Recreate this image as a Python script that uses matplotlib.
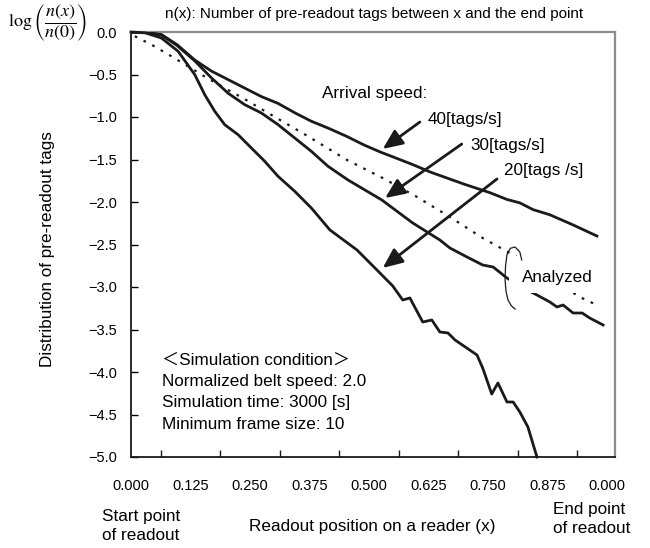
import numpy as np
import matplotlib
matplotlib.use("Agg")
import matplotlib.pyplot as plt
from matplotlib import font_manager
from matplotlib.patches import Rectangle

# --- data (x: readout position, y: log(n(x)/n(0))) ---
x40 = [0.0, 0.030, 0.064, 0.097, 0.134, 0.169, 0.204, 0.239, 0.274, 0.309, 0.344,
       0.379, 0.414, 0.454, 0.490, 0.523, 0.560, 0.592, 0.630, 0.670, 0.700, 0.727,
       0.754, 0.790, 0.817, 0.845, 0.880, 0.929, 0.979]
y40 = [0.0, -0.005, -0.03, -0.15, -0.33, -0.46, -0.56, -0.66, -0.76, -0.84, -0.95,
       -1.05, -1.13, -1.23, -1.33, -1.41, -1.49, -1.56, -1.65, -1.73, -1.79, -1.84,
       -1.89, -1.97, -2.01, -2.09, -2.15, -2.27, -2.40]

x30 = [0.0, 0.030, 0.064, 0.097, 0.134, 0.169, 0.204, 0.239, 0.274, 0.309, 0.344,
       0.379, 0.414, 0.456, 0.527, 0.592, 0.649, 0.670, 0.706, 0.739, 0.761, 0.790,
       0.821, 0.853, 0.880, 0.895, 0.908, 0.929, 0.948, 0.964, 0.992]
y30 = [0.0, -0.005, -0.035, -0.16, -0.34, -0.54, -0.72, -0.855, -0.953, -1.09, -1.247,
       -1.404, -1.58, -1.741, -1.976, -2.247, -2.447, -2.541, -2.647, -2.741, -2.765,
       -2.894, -3.00, -3.094, -3.176, -3.235, -3.212, -3.306, -3.306, -3.365, -3.447]

x20 = [0.0, 0.030, 0.064, 0.099, 0.134, 0.155, 0.176, 0.197, 0.225, 0.253, 0.281,
       0.309, 0.344, 0.379, 0.418, 0.475, 0.523, 0.550, 0.571, 0.586, 0.613, 0.632,
       0.649, 0.666, 0.681, 0.727, 0.739, 0.758, 0.771, 0.790, 0.803, 0.817, 0.834,
       0.853]
y20 = [0.0, -0.01, -0.071, -0.227, -0.502, -0.738, -0.933, -1.091, -1.208, -1.365,
       -1.521, -1.698, -1.874, -2.071, -2.329, -2.565, -2.835, -2.988, -3.153, -3.129,
       -3.412, -3.388, -3.529, -3.541, -3.624, -3.800, -3.953, -4.259, -4.129, -4.353,
       -4.353, -4.47, -4.647, -5.00]

x_an = [0.008, 0.043, 0.085, 0.120, 0.148, 0.197, 0.239, 0.288, 0.330, 0.372, 0.454,
        0.529, 0.601, 0.670, 0.739, 0.811, 0.943, 0.979]
y_an = [-0.05, -0.149, -0.286, -0.404, -0.502, -0.66, -0.79, -0.953, -1.09, -1.227,
        -1.506, -1.718, -1.941, -2.176, -2.424, -2.647, -3.118, -3.212]

xticks_major = [0.0, 0.125, 0.25, 0.375, 0.5, 0.625, 0.75, 0.875, 1.0]
xtick_labels = ["0.000", "0.125", "0.250", "0.375", "0.500", "0.625", "0.750", "0.875", "0.000"]
yticks = [0.0, -0.5, -1.0, -1.5, -2.0, -2.5, -3.0, -3.5, -4.0, -4.5, -5.0]
ytick_labels = ["0.0", "\u22120.5", "\u22121.0", "\u22121.5", "\u22122.0", "\u22122.5",
                "\u22123.0", "\u22123.5", "\u22124.0", "\u22124.5", "\u22125.0"]

cond_lines = ["\uff1cSimulation condition\uff1e", "Normalized belt speed: 2.0",
              "Simulation time: 3000 [s]", "Minimum frame size: 10"]

installed = {f.name for f in font_manager.fontManager.ttflist}
narrow = "Liberation Sans Narrow" if "Liberation Sans Narrow" in installed else "Liberation Sans"
plt.rcParams['font.family'] = ['Liberation Sans', 'Noto Sans CJK JP', 'DejaVu Sans']
plt.rcParams['mathtext.fontset'] = 'stix'

fs = 12.3
fig = plt.figure(figsize=(6.5, 5.48), dpi=100)
ax = fig.add_axes([131 / 650, 1 - 457 / 548, 484 / 650, 425 / 548])

lw = 2.0
ax.plot(x40, y40, color='#1a1a1a', lw=lw, zorder=3)
ax.plot(x30, y30, color='#1a1a1a', lw=lw, zorder=3)
ax.plot(x20, y20, color='#1a1a1a', lw=lw, zorder=3, clip_on=False)
ax.plot(x_an, y_an, color='#1a1a1a', lw=1.6, ls=(0, (1.2, 3.2)), zorder=3)

ax.set_xlim(0, 1.017)
ax.set_ylim(-5.0, 0.0)

# white box that breaks the lines behind "Analyzed"
ax.add_patch(Rectangle((0.795, -3.07), 0.19, 0.44, facecolor='white',
                       edgecolor='none', zorder=4))
ax.text(0.821, -2.894, "Analyzed", fontsize=fs, va='center', ha='left', zorder=5)
# bracket around the analyzed curve ends
bx = [0.821, 0.817, 0.807, 0.797, 0.790, 0.787, 0.786, 0.788, 0.792, 0.799, 0.807]
by = [-2.682, -2.588, -2.529, -2.545, -2.62, -2.75, -2.918, -3.05, -3.15, -3.22, -3.259]
ax.plot(bx, by, color='#1a1a1a', lw=0.9, zorder=6)

# arrows and labels
ax.text(0.401, -0.718, "Arrival speed:", fontsize=fs, va='center', ha='left')
ax.text(0.624, -1.035, "40[tags/s]", fontsize=fs, va='center', ha='left')
ax.text(0.714, -1.341, "30[tags/s]", fontsize=fs, va='center', ha='left')
ax.text(0.784, -1.635, "20[tags /s]", fontsize=fs, va='center', ha='left')
arrow = dict(arrowstyle='-|>,head_length=0.8,head_width=0.35', lw=2.0,
             color='#1a1a1a', shrinkA=0, shrinkB=0, mutation_scale=15)
ax.annotate('', xy=(0.529, -1.376), xytext=(0.607, -1.059), arrowprops=arrow, zorder=6)
ax.annotate('', xy=(0.534, -1.953), xytext=(0.695, -1.318), arrowprops=arrow, zorder=6)
ax.annotate('', xy=(0.529, -2.776), xytext=(0.769, -1.729), arrowprops=arrow, zorder=6)

for i, line in enumerate(cond_lines):
    ax.text(0.065, -3.859 - i * 0.251, line, fontsize=fs, va='center', ha='left')

# axes styling
for s in ['left', 'bottom']:
    ax.spines[s].set_color('#1a1a1a')
    ax.spines[s].set_linewidth(1.3)
for s in ['top', 'right']:
    ax.spines[s].set_color('#8c8c8c')
    ax.spines[s].set_linewidth(1.6)

ax.set_xticks(np.arange(0, 1.0001, 0.0625)[1:], minor=True)
ax.set_xticks(xticks_major)
ax.set_xticklabels(xtick_labels, fontfamily=narrow, fontsize=10.5)
ax.tick_params(axis='x', which='major', direction='in', length=0, pad=16)
ax.tick_params(axis='x', which='minor', direction='in', length=5, width=1, color='#1a1a1a')
ax.set_yticks(yticks)
ax.set_yticklabels(ytick_labels, fontfamily=narrow, fontsize=10.5)
ax.tick_params(axis='y', direction='in', length=5, width=1, pad=10)

ax.set_ylabel("Distribution of pre-readout tags", fontsize=fs)
ax.yaxis.set_label_coords(-0.157, 0.49)

fig.text(165 / 650, 1 - 14 / 548, "n(x): Number of pre-readout tags between x and the end point",
         fontsize=11, va='center', ha='left')
fig.text(47 / 650, 1 - 23 / 548, r'$\log\left(\dfrac{n(x)}{n(0)}\right)$',
         fontsize=13, va='center', ha='center')
fig.text(102 / 650, 1 - 526 / 548, "Start point\nof readout", fontsize=fs,
         va='center', ha='left', linespacing=1.3)
fig.text(372 / 650, 1 - 527 / 548, "Readout position on a reader (x)", fontsize=fs,
         va='center', ha='center')
fig.text(553 / 650, 1 - 519 / 548, "End point\nof readout", fontsize=fs,
         va='center', ha='left', linespacing=1.3)

fig.savefig("out.png", dpi=100)
